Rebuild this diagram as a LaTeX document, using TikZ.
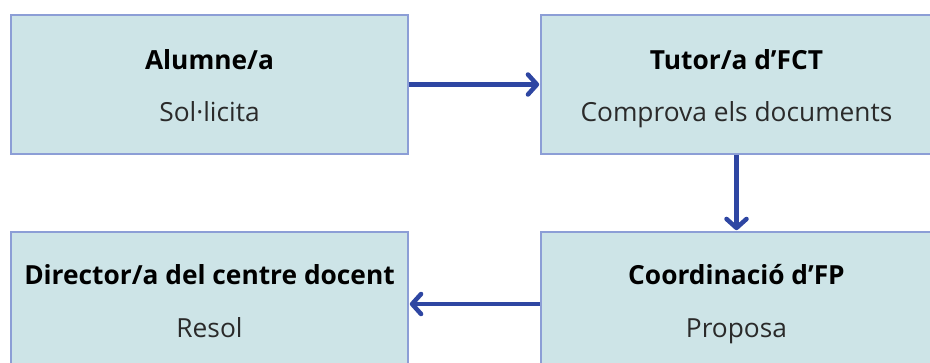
\documentclass[tikz,border=0pt]{standalone}
\usepackage{fontspec}
\setmainfont{Open Sans}
\usetikzlibrary{arrows.meta}
\definecolor{boxfill}{HTML}{CDE4E7}
\definecolor{boxline}{HTML}{8C9ED6}
\definecolor{arrowcol}{HTML}{2E46A2}
\definecolor{subcol}{HTML}{2A2A2A}
\tikzset{
  stagebox/.style={draw=boxline, fill=boxfill, line width=1.6pt, rectangle, inner sep=0pt},
  titletext/.style={anchor=base, inner sep=0pt, font=\fontsize{26.3}{30}\selectfont\bfseries, text=black},
  subtext/.style={anchor=base, inner sep=0pt, font=\fontsize{26.3}{30}\selectfont, text=subcol},
  flow/.style={draw=arrowcol, line width=4.5pt, -{Straight Barb[length=9pt,width=20pt,line cap=round,line join=round]}, shorten >=1pt}
}
\begin{document}
\begin{tikzpicture}[x=1pt,y=-1pt]
\useasboundingbox (0,0) rectangle (930,362);
\clip (0,0) rectangle (930,362);
\node[stagebox, minimum width=397pt, minimum height=139pt] (a) at (209.5,84.5) {};
\node[stagebox, minimum width=391pt, minimum height=139pt] (b) at (736.5,84.5) {};
\node[stagebox, minimum width=397pt, minimum height=144pt] (d) at (209.5,304) {};
\node[stagebox, minimum width=391pt, minimum height=144pt] (c) at (736.5,304) {};

\node[titletext] (at) at (209.5,69) {Alumne/a};
\node[subtext] (as) at (209.5,121) {Sol·licita};
\node[titletext] (bt) at (736.5,69) {Tutor/a d’FCT};
\node[subtext] (bs) at (736.5,121) {Comprova els documents};
\node[titletext] (ct) at (736.5,284) {Coordinació d’FP};
\node[subtext] (cs) at (736.5,337) {Proposa};
\node[titletext] (dt) at (209.5,284) {Director/a del centre docent};
\node[subtext] (ds) at (209.5,337) {Resol};

\draw[flow] (a.east) -- (b.west);
\draw[flow] (b.south) -- (c.north);
\draw[flow] (c.west) -- (d.east);
\end{tikzpicture}
\end{document}
